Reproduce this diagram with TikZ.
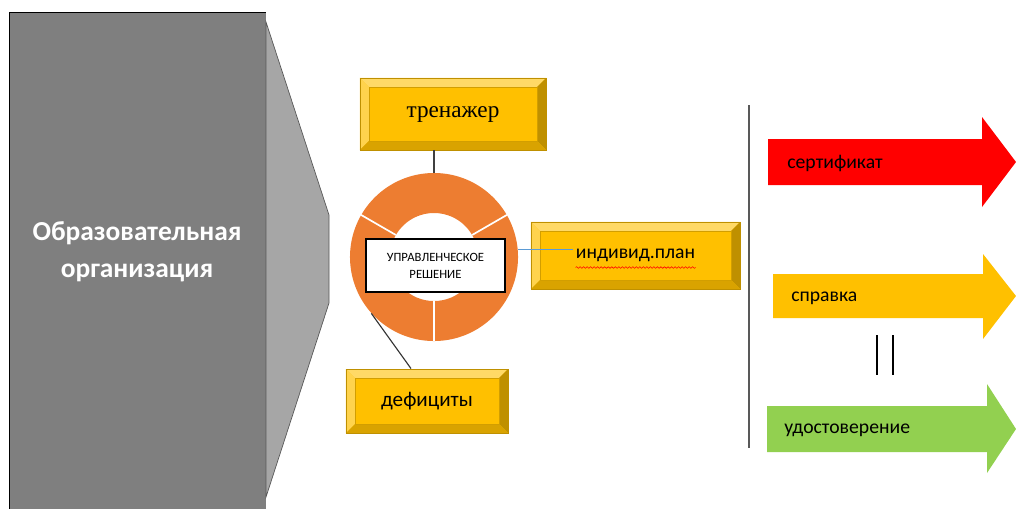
\documentclass[tikz,border=0pt]{standalone}
\usepackage{fontspec}
\setmainfont{Carlito}
\newfontfamily\trainerfont{Liberation Serif}
\usetikzlibrary{calc,positioning,decorations.pathmorphing}

\definecolor{orgdark}{HTML}{7F7F7F}
\definecolor{orglight}{HTML}{A6A6A6}
\definecolor{ringorange}{HTML}{ED7D31}
\definecolor{gold}{HTML}{FFC000}
\definecolor{goldlight}{HTML}{FFD966}
\definecolor{goldmid}{HTML}{FFD34D}
\definecolor{golddark}{HTML}{BF9000}
\definecolor{goldlow}{HTML}{D9A300}
\definecolor{certred}{HTML}{FF0000}
\definecolor{certgreen}{HTML}{92D050}
\definecolor{linkblue}{HTML}{5B9BD5}

\begin{document}
\begin{tikzpicture}[ % GLOBAL CFG
    x=0.025cm, y=-0.025cm,
    % Styles
    bevelbox/.style={% For the golden boxes
        rectangle,
        fill=gold,
        draw=golddark,
        line width=0.6pt,
        inner sep=0pt,
        font=\fontsize{14}{16}\selectfont,
        path picture={
            \path (path picture bounding box.south west) coordinate (bsw)
                  (path picture bounding box.north east) coordinate (bne);
            \coordinate (isw) at ($(bsw)+(0.22cm,0.22cm)$);
            \coordinate (ine) at ($(bne)+(-0.22cm,-0.22cm)$);
            \fill[goldlight] (bsw |- bne) -- (bne) -- (ine) -- (isw |- ine) -- cycle;
            \fill[goldmid] (bsw) -- (bsw |- bne) -- (isw |- ine) -- (isw) -- cycle;
            \fill[golddark] (bne) -- (bne |- bsw) -- (ine |- isw) -- (ine) -- cycle;
            \fill[goldlow] (bsw) -- (bne |- bsw) -- (ine |- isw) -- (isw) -- cycle;
            \draw[golddark!70!gold, line width=0.3pt] (isw) rectangle (ine);
            },
        },
    decision/.style={% For the white box in the ring
        rectangle,
        draw,
        fill=white,
        line width=0.8pt,
        align=center,
        minimum width=3.475cm,
        minimum height=1.325cm,
        font=\fontsize{9}{12}\selectfont,
        },
    result/.style={% For the text on the arrows
        anchor=west,
        inner sep=0pt,
        font=\fontsize{14}{16}\selectfont,
        },
    ]

    \useasboundingbox (0,0) rectangle (1016,508);

    % Organisation block
    \node [rectangle, fill=orgdark, minimum width=6.4cm, minimum height=12.9cm, inner sep=0pt] (orgbox) at (138,271) {};
    \draw [line width=0.5pt] (orgbox.south west) -- (orgbox.north west) -- (orgbox.north east);
    \fill [orglight, draw=black!65, line width=0.5pt] (266,22) -- (329,215) -- (329,303) -- (266,497) -- cycle;
    \node [align=center, text=white, font=\bfseries\fontsize{19.5}{26}\selectfont] (orgtext) at (137,252) {Образовательная\\организация};

    % Ring
    \node [circle, minimum size=4.2cm, inner sep=0pt] (ring) at (434,257) {};
    \fill [ringorange, even odd rule] (ring.center) circle (2.1cm) circle (1.1cm);
    \foreach \ang in {30,150,270}
        \draw [white, line width=1.2pt] ($(ring.center)+(\ang:1.1cm)$) -- (ring.\ang);
    \node [decision] (decide) at (435.5,265.5) {УПРАВЛЕНЧЕСКОЕ\\РЕШЕНИЕ};

    % Golden boxes
    \node [bevelbox, minimum width=4.65cm, minimum height=1.8cm, font=\trainerfont\fontsize{16.5}{18}\selectfont] (trainer) at (453,114) {тренажер};
    \node [bevelbox, minimum width=5.225cm, minimum height=1.675cm] (plan) at (635.5,255.5) {индивид.план};
    \node [bevelbox, minimum width=4.05cm, minimum height=1.6cm, font=\fontsize{15}{17}\selectfont] (deficit) at (427,401) {дефициты};

    % Links to the ring
    \draw [black!75, line width=0.8pt] (trainer.south -| ring.center) -- (ring.north);
    \draw [black!80, line width=0.8pt] (ring.222) -- ($(deficit.north)+(-16,0)$);
    \coordinate (planin) at ($(plan.west)+(42,0)$);
    \draw [linkblue, line width=1pt] (ring.5) -- (ring.5 -| planin);
    \draw [red, line width=0.4pt, decorate, decoration={snake, amplitude=0.6pt, segment length=2.5pt}]
        ($(plan.center)+(-60,12)$) -- ($(plan.center)+(60,12)$);

    % Separator
    \draw [black!65, line width=1pt] (749,105) -- (749,448);

    % Result arrows
    \fill [certred] (768,139) -- (982,139) -- (982,117) -- (1016,162) -- (982,207) -- (982,185) -- (768,185) -- cycle;
    \node [result] (cert) at (787,163) {сертификат};
    \fill [gold] (773,274) -- (983,274) -- (983,254) -- (1016,296) -- (983,339) -- (983,318) -- (773,318) -- cycle;
    \node [result] (spravka) at (791,298) {справка};
    \fill [certgreen] (767,406) -- (987,406) -- (987,384) -- (1016,429) -- (987,473) -- (987,452) -- (767,452) -- cycle;
    \node [result] (udost) at (784,430) {удостоверение};

    % Equal sign between
    \draw [line width=0.9pt] (877,335) -- (877,375);
    \draw [line width=0.9pt] (893,335) -- (893,375);

\end{tikzpicture}
\end{document}
